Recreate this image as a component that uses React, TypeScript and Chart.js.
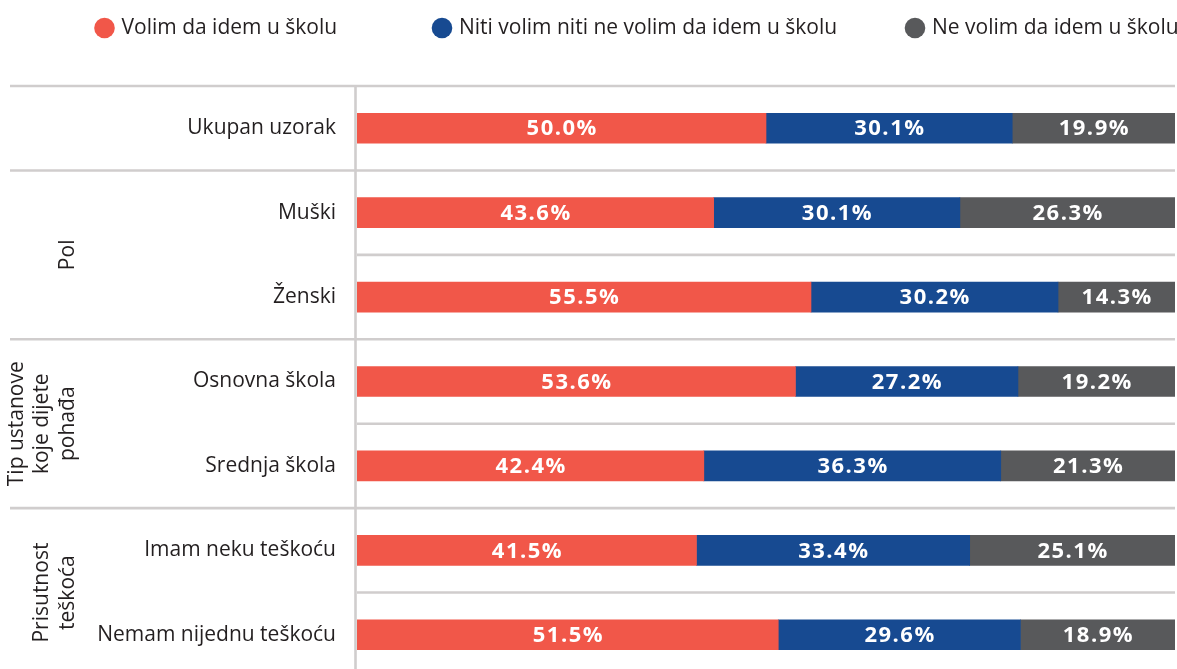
import React, { useEffect, useRef } from "react";
import { Chart, registerables } from "chart.js";

Chart.register(...registerables);

const categories = [
  "Ukupan uzorak",
  "Muški",
  "Ženski",
  "Osnovna škola",
  "Srednja škola",
  "Imam neku teškoću",
  "Nemam nijednu teškoću",
];
const seriesNames = [
  "Volim da idem u školu",
  "Niti volim niti ne volim da idem u školu",
  "Ne volim da idem u školu",
];
const volim = [50.0, 43.6, 55.5, 53.6, 42.4, 41.5, 51.5];
const niti = [30.1, 30.1, 30.2, 27.2, 36.3, 33.4, 29.6];
const neVolim = [19.9, 26.3, 14.3, 19.2, 21.3, 25.1, 18.9];
const groupLabels = [[], ["Pol"], ["Tip ustanove", "koje dijete", "pohađa"], ["Prisutnost", "teškoća"]];
const groupSizes = [1, 2, 2, 2];

const COLORS = ["#F15749", "#174A91", "#58595B"];
const FONT = "'Open Sans', 'Noto Sans', sans-serif";
const TEXT = "#231F20";
const LINE = "#D0CDCD";

const decorPlugin = {
  id: "decor",
  beforeDatasetsDraw(chart: any) {
    const { ctx, chartArea } = chart;
    const ys = chart.scales.y;
    const n = categories.length;
    const p0 = ys.getPixelForTick(0);
    const p1 = ys.getPixelForTick(1);
    const step = p1 - p0;
    const boundary = (k: number) => p0 - step / 2 + k * step;
    const groupStarts: number[] = [];
    let acc = 0;
    groupSizes.forEach((s) => {
      groupStarts.push(acc);
      acc += s;
    });
    ctx.save();
    ctx.strokeStyle = LINE;
    ctx.lineWidth = 2.6;
    for (let k = 0; k < n; k++) {
      const y = boundary(k);
      const full = groupStarts.includes(k);
      ctx.beginPath();
      ctx.moveTo(full ? 10 : chartArea.left, y);
      ctx.lineTo(chartArea.right, y);
      ctx.stroke();
    }
    ctx.beginPath();
    ctx.moveTo(chartArea.left - 1.5, boundary(0));
    ctx.lineTo(chartArea.left - 1.5, chart.height);
    ctx.stroke();

    // group labels
    ctx.fillStyle = TEXT;
    ctx.font = `21px ${FONT}`;
    ctx.textAlign = "center";
    ctx.textBaseline = "middle";
    groupLabels.forEach((lines, gi) => {
      if (!lines.length) return;
      const start = groupStarts[gi];
      const cy = (boundary(start) + boundary(start + groupSizes[gi])) / 2;
      lines.forEach((line, j) => {
        const x = 68 - (lines.length - 1 - j) * 25.5;
        ctx.save();
        ctx.translate(x, cy);
        ctx.rotate(-Math.PI / 2);
        ctx.fillText(line, 0, 0);
        ctx.restore();
      });
    });
    ctx.restore();
  },
  afterDatasetsDraw(chart: any) {
    const { ctx } = chart;
    ctx.save();
    ctx.fillStyle = "#FFFFFF";
    ctx.font = `bold 22px ${FONT}`;
    (ctx as any).letterSpacing = "1.5px";
    ctx.textAlign = "center";
    ctx.textBaseline = "middle";
    chart.data.datasets.forEach((ds: any, di: number) => {
      const meta = chart.getDatasetMeta(di);
      meta.data.forEach((bar: any, i: number) => {
        const v = ds.data[i];
        ctx.fillText(v.toFixed(1) + "%", (bar.x + bar.base) / 2 + 0.75, bar.y + 1);
      });
    });
    ctx.restore();
  },
  afterDraw(chart: any) {
    const { ctx } = chart;
    const xs = [104.5, 442, 915];
    const cy = 28;
    ctx.save();
    ctx.font = `21px ${FONT}`;
    ctx.textAlign = "left";
    ctx.textBaseline = "middle";
    seriesNames.forEach((name, i) => {
      ctx.fillStyle = COLORS[i];
      ctx.beginPath();
      ctx.arc(xs[i], cy, 10.3, 0, Math.PI * 2);
      ctx.fill();
      ctx.fillStyle = TEXT;
      ctx.fillText(name, xs[i] + 17, cy);
    });
    ctx.restore();
  },
};

export default function App() {
  const ref = useRef<HTMLCanvasElement>(null);
  useEffect(() => {
    if (!ref.current) return;
    const chart = new Chart(ref.current, {
      type: "bar",
      data: {
        labels: categories,
        datasets: [volim, niti, neVolim].map((d, i) => ({
          label: seriesNames[i],
          data: d,
          backgroundColor: COLORS[i],
          borderWidth: 0,
          barThickness: 30,
        })),
      },
      options: {
        indexAxis: "y",
        responsive: true,
        maintainAspectRatio: false,
        animation: false,
        layout: { padding: { top: 86, bottom: 3, left: 0, right: 2 } },
        plugins: { legend: { display: false }, tooltip: { enabled: false } },
        scales: {
          x: { stacked: true, min: 0, max: 100, display: false },
          y: {
            stacked: true,
            grid: { display: false, drawTicks: false },
            border: { display: false },
            ticks: { color: TEXT, font: { family: FONT, size: 21 }, padding: 21 },
            afterFit(scale: any) {
              scale.width = 357;
              scale.paddingTop = 0;
              scale.paddingBottom = 0;
            },
          },
        },
      },
      plugins: [decorPlugin],
    } as any);
    return () => chart.destroy();
  }, []);
  return (
    <div style={{ position: "fixed", left: 0, top: 0, width: 1177, height: 669, overflow: "hidden", background: "#fff" }}>
      <div style={{ position: "relative", width: 1177, height: 680 }}>
        <canvas ref={ref} />
      </div>
    </div>
  );
}
